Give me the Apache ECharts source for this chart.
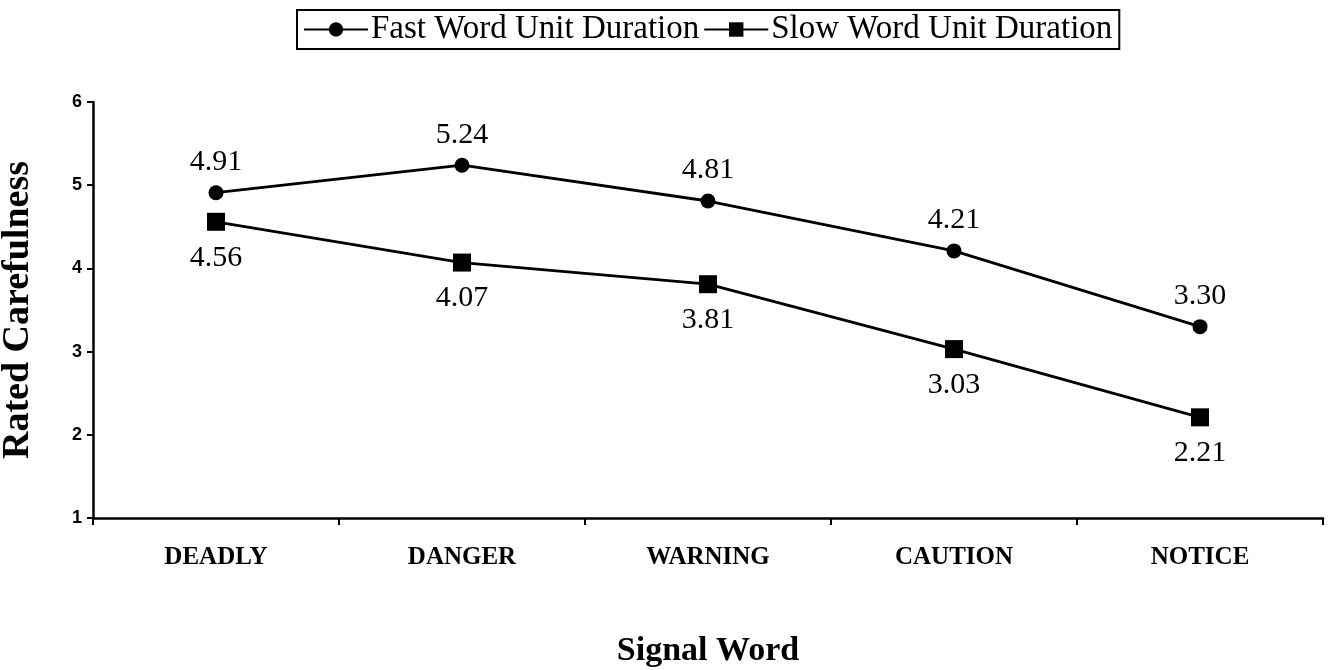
<!DOCTYPE html>
<html>
<head>
<meta charset="utf-8">
<script src="https://cdn.jsdelivr.net/npm/echarts@6/dist/echarts.min.js"></script>
<style>
html,body{margin:0;padding:0;background:#fff;}
#chart{width:1329px;height:670px;}
</style>
</head>
<body>
<div id="chart"></div>
<script>
const categories = ['DEADLY', 'DANGER', 'WARNING', 'CAUTION', 'NOTICE'];
const fastValues = [4.91, 5.24, 4.81, 4.21, 3.30];
const slowValues = [4.56, 4.07, 3.81, 3.03, 2.21];
const seriesNames = ['Fast Word Unit Duration', 'Slow Word Unit Duration'];
const yTicks = [1, 2, 3, 4, 5, 6];

const serif = '"Liberation Serif", "Times New Roman", serif';
const sans = '"Liberation Sans", Arial, sans-serif';

const chart = echarts.init(document.getElementById('chart'));
chart.setOption({
  backgroundColor: '#fff',
  animation: false,
  legend: {
    top: 10,
    left: 297,
    data: seriesNames,
    borderColor: '#000',
    borderWidth: 2,
    padding: [3, 7, 3, 6],
    itemGap: 4,
    itemWidth: 64,
    itemHeight: 18,
    textStyle: { fontFamily: serif, fontSize: 33, color: '#000', padding: [0, 0, 0, -2] }
  },
  grid: { left: 93, right: 6, top: 102, bottom: 152, outerBoundsMode: 'none', containLabel: false },
  xAxis: {
    type: 'category',
    data: categories,
    boundaryGap: true,
    name: 'Signal Word',
    nameLocation: 'middle',
    nameGap: 116,
    nameTextStyle: { fontFamily: serif, fontSize: 34, fontWeight: 'bold', color: '#000' },
    axisLine: { lineStyle: { color: '#000', width: 2.5 } },
    axisTick: { show: true, length: 7, lineStyle: { color: '#000', width: 2 } },
    axisLabel: { fontFamily: serif, fontSize: 25, fontWeight: 'bold', color: '#000', margin: 27 },
    splitLine: { show: false }
  },
  yAxis: {
    type: 'value',
    min: yTicks[0],
    max: yTicks[yTicks.length - 1],
    interval: 1,
    name: 'Rated Carefulness',
    nameLocation: 'middle',
    nameRotate: 90,
    nameGap: 56,
    nameTextStyle: { fontFamily: serif, fontSize: 38, fontWeight: 'bold', color: '#000' },
    axisLine: { show: true, lineStyle: { color: '#000', width: 2.5 } },
    axisTick: { show: true, length: 6, lineStyle: { color: '#000', width: 2 } },
    axisLabel: { fontFamily: sans, fontSize: 18, fontWeight: 'bold', color: '#000', margin: 11 },
    splitLine: { show: false }
  },
  series: [
    {
      name: seriesNames[0],
      type: 'line',
      data: fastValues,
      symbol: 'circle',
      symbolSize: 15,
      itemStyle: { color: '#000' },
      lineStyle: { color: '#000', width: 2.8 },
      label: {
        show: true,
        position: 'top',
        distance: 8,
        formatter: p => p.value.toFixed(2),
        fontFamily: serif, fontSize: 30, color: '#000'
      }
    },
    {
      name: seriesNames[1],
      type: 'line',
      data: slowValues,
      symbol: 'rect',
      symbolSize: 18,
      itemStyle: { color: '#000' },
      lineStyle: { color: '#000', width: 2.8 },
      label: {
        show: true,
        position: 'bottom',
        distance: 12,
        formatter: p => p.value.toFixed(2),
        fontFamily: serif, fontSize: 30, color: '#000'
      }
    }
  ]
});
</script>
</body>
</html>
